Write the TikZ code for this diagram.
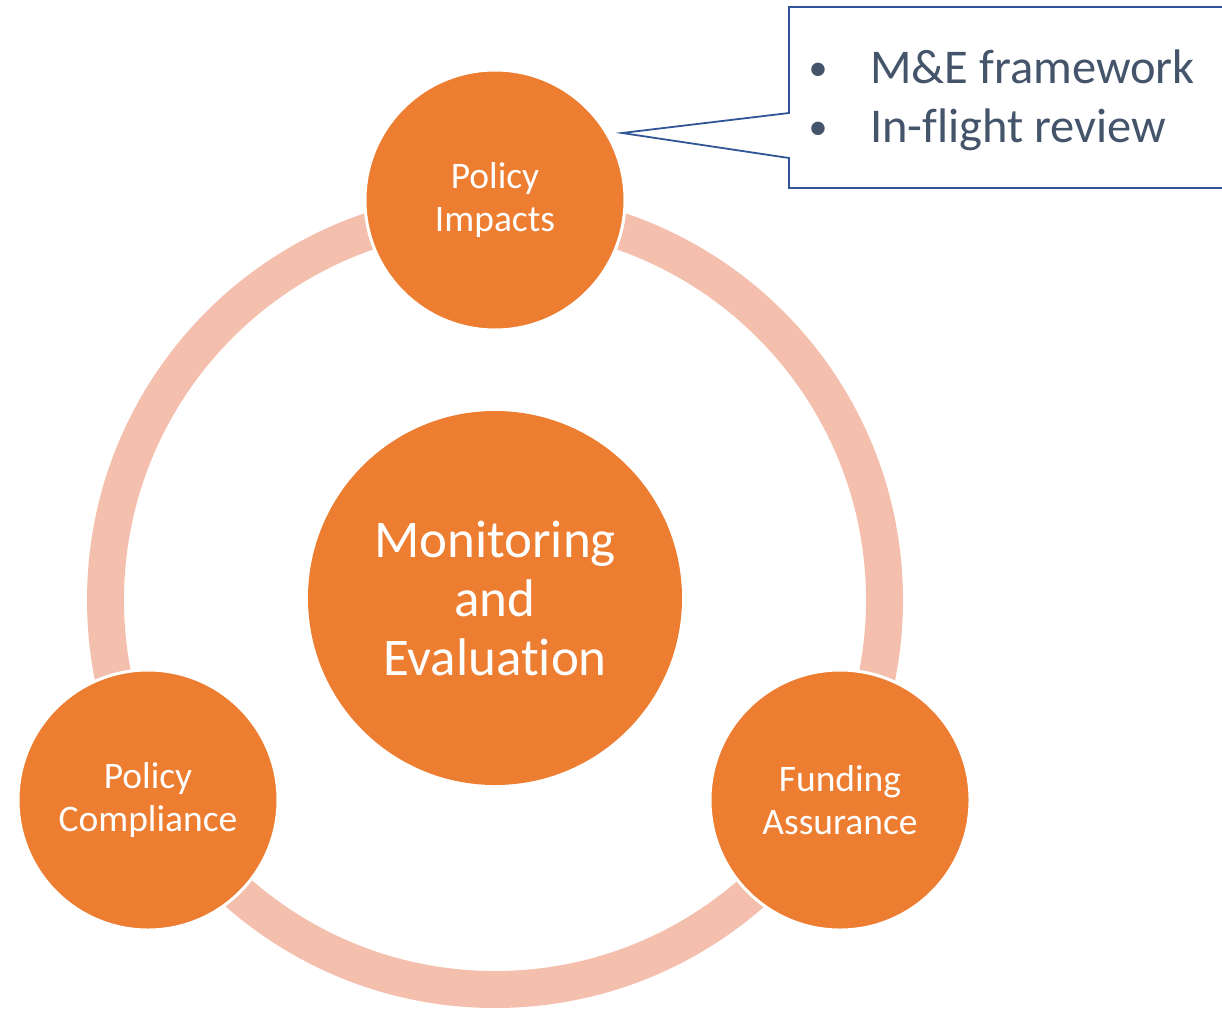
\documentclass[tikz,border=0pt]{standalone}
\usepackage{fontspec}
\setmainfont{Carlito}[Ligatures=NoCommon]
\definecolor{orangec}{HTML}{ED7D31}
\definecolor{ringc}{HTML}{F4C0AD}
\definecolor{boxc}{HTML}{2F5597}
\definecolor{slatec}{HTML}{44546A}
\begin{document}
\begin{tikzpicture}[x=1pt,y=1pt,
  bigc/.style={circle, fill=orangec, inner sep=0pt, minimum size=374pt, text=white, align=center,
    font=\fontsize{53}{59}\selectfont},
  smallc/.style={circle, fill=orangec, draw=white, line width=3pt, inner sep=0pt, minimum size=260pt,
    text=white, align=center, font=\fontsize{37.5}{43}\selectfont},
  bullettext/.style={anchor=base west, inner sep=0pt, text=slatec, font=\fontsize{48.5}{59}\selectfont},
  bulletdot/.style={anchor=base, inner sep=0pt, text=slatec, font=\fontsize{38}{59}\selectfont}]
\useasboundingbox (0,0) rectangle (1222,-1009);
\clip (0,0) rectangle (1222,-1009);
% ring
\draw[ringc, line width=37pt] (495,-600) circle[radius=389.5pt];
% circles
\node[bigc] (me) at (495,-598) {Monitoring\\and\\Evaluation};
\node[smallc] (pi) at (495,-200) {Policy\\Impacts};
\node[smallc] (pc) at (148,-800) {Policy\\Compliance};
\node[smallc] (fa) at (840,-800) {Funding\\Assurance};
% callout
\coordinate (tip) at (622,-133);
\draw[boxc, line width=1.8pt, fill=white] (1240,-7) -- (789,-7) -- (789,-113) -- (tip) -- (789,-158) -- (789,-188) -- (1240,-188);
\node[bulletdot] (b1) at (818,-80) {•};
\node[bullettext] (t1) at (870,-83) {M\&E framework};
\node[bulletdot] (b2) at (818,-139) {•};
\node[bullettext] (t2) at (870,-142) {In-flight review};
\end{tikzpicture}
\end{document}
